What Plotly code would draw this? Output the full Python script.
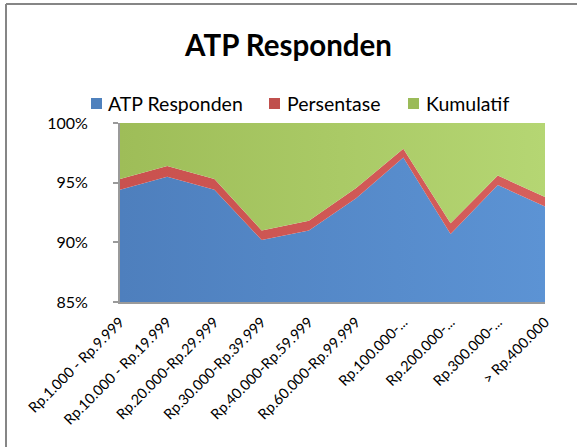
import plotly.graph_objects as go

categories = ["Rp.1.000 - Rp.9.999", "Rp.10.000 - Rp.19.999", "Rp.20.000-Rp.29.999",
              "Rp.30.000-Rp.39.999", "Rp.40.000-Rp.59.999", "Rp.60.000-Rp.99.999",
              "Rp.100.000-...", "Rp.200.000-...", "Rp.300.000-...", "> Rp.400.000"]
# shares (%) of each series within each category (100% stacked)
atp_responden = [94.4, 95.5, 94.4, 90.2, 91.0, 93.7, 97.1, 90.7, 94.8, 93.0]
persentase = [0.9, 0.9, 0.9, 0.8, 0.8, 0.85, 0.75, 0.9, 0.8, 0.8]
kumulatif = [4.7, 3.6, 4.7, 9.0, 8.2, 5.45, 2.15, 8.4, 4.4, 6.2]
series_names = ["ATP Responden", "Persentase", "Kumulatif"]

yticks = [85, 90, 95, 100]
ytext = ["85%", "90%", "95%", "100%"]

FONT = "Lato, 'Open Sans', sans-serif"
W, H = 577, 447

def px_x(p):
    return p / W

def px_y(p):
    return 1 - p / H

colors = ["#4f81bd", "#c0504d", "#9bbb59"]
grads = [[[0, "#4e7fbd"], [1, "#5c93d4"]],
         [[0, "#c9514e"], [1, "#d65f5c"]],
         [[0, "#9ebd58"], [1, "#b5d673"]]]

fig = go.Figure()
for name, vals, col, grad in zip(series_names, [atp_responden, persentase, kumulatif], colors, grads):
    fig.add_trace(go.Scatter(
        x=categories, y=vals, name=name, mode="lines",
        stackgroup="one", groupnorm="percent",
        line=dict(width=0, color=col), fillcolor=col,
        fillgradient=dict(type="horizontal", colorscale=grad),
        hoverinfo="skip", showlegend=False,
    ))

# legend (square swatches + labels), placed like the original
legend_sq_x = [91, 269, 408]
legend_txt_x = [106, 285, 424]
legend_y = 103
shapes = []
annotations = []
for name, col, sx, tx in zip(series_names, colors, legend_sq_x, legend_txt_x):
    shapes.append(dict(type="rect", xref="paper", yref="paper",
                       x0=px_x(sx), x1=px_x(sx + 11), y0=px_y(legend_y - 5), y1=px_y(legend_y + 6),
                       line=dict(width=0), fillcolor=col))
    annotations.append(dict(text=name, xref="paper", yref="paper", x=px_x(tx), y=px_y(legend_y),
                            xanchor="left", yanchor="middle", showarrow=False,
                            font=dict(size=19.5, family=FONT, color="black")))

# chart-area frame (left and top edges visible in the original)
frame = dict(color="#868686", width=2)
shapes.append(dict(type="line", xref="paper", yref="paper",
                   x0=px_x(6), x1=px_x(6), y0=0, y1=px_y(4), line=frame, layer="below"))
shapes.append(dict(type="line", xref="paper", yref="paper",
                   x0=px_x(6), x1=1, y0=px_y(4), y1=px_y(4), line=frame, layer="below"))

fig.update_layout(
    width=W, height=H,
    margin=dict(l=0, r=0, t=0, b=0, autoexpand=False),
    paper_bgcolor="white", plot_bgcolor="white",
    font=dict(family=FONT, color="black"),
    title=dict(text="<b>ATP Responden</b>", x=0.5, xanchor="center",
               xref="paper", yref="paper",
               y=px_y(46), yanchor="middle",
               font=dict(size=29.5, family=FONT, color="black")),
    showlegend=False,
    xaxis=dict(domain=[px_x(120), px_x(545)], range=[0, 9], showgrid=False, tickangle=-45,
               tickfont=dict(size=14.5, family=FONT), automargin=False,
               showline=True, linecolor="#9a9a9a", linewidth=2,
               ticks="", fixedrange=True, zeroline=False, ticklabelstandoff=4),
    yaxis=dict(domain=[px_y(302), px_y(123)], range=[85, 100], tickvals=yticks, ticktext=ytext,
               showgrid=False, tickfont=dict(size=16, family=FONT), automargin=False,
               showline=True, linecolor="#9a9a9a", linewidth=2,
               ticks="outside", ticklen=5, tickcolor="#9a9a9a", tickwidth=2,
               fixedrange=True, zeroline=False, ticklabelstandoff=22),
    shapes=shapes,
    annotations=annotations,
)

fig.write_html("out.html", config={"displayModeBar": False},
               post_script=("document.body.style.margin='0';"
                            "document.body.style.overflow='hidden';"
                            "document.documentElement.style.overflow='hidden';"))
